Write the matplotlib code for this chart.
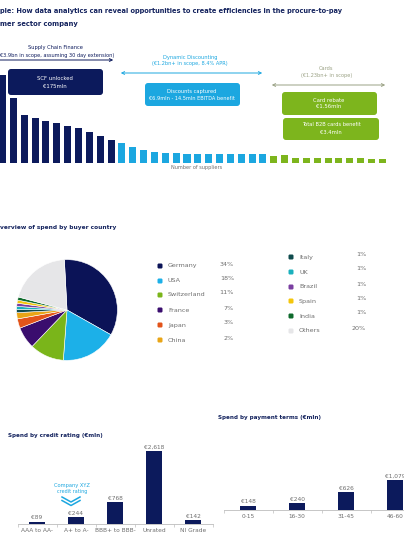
import matplotlib
matplotlib.use("Agg")
import matplotlib.pyplot as plt
from matplotlib.patches import FancyBboxPatch

W, H = 404, 543
NAVY = "#0c1a5c"
CYAN = "#1ca7e0"
GREEN = "#7db51d"
CARD_GREY = "#9aa184"
GREY_TXT = "#6e6e6e"
TITLE = "#14235e"

# ---------------- data ----------------
supplier_spend = [88, 65, 48, 45, 42, 40, 37, 35, 31, 27, 23,
                  20, 16, 13, 11, 10, 10, 9, 9, 9, 9, 9, 9, 9, 9,
                  7, 8, 5, 5, 5, 5, 5, 5, 5, 4, 4]
supplier_group = ["SCF"] * 11 + ["DD"] * 14 + ["Cards"] * 11
group_colors = {"SCF": NAVY, "DD": CYAN, "Cards": GREEN}

countries = ["Germany", "USA", "Switzerland", "France", "Japan", "China",
             "Italy", "UK", "Brazil", "Spain", "India", "Others"]
country_share = [34, 18, 11, 7, 3, 2, 1, 1, 1, 1, 1, 20]
country_colors = ["#0b1357", "#1cb0e8", "#7ab51a", "#3a0d6e", "#e2541a", "#e9a516",
                  "#0f4b4d", "#1ab0bd", "#7a3ea1", "#f4c60c", "#0e6a2c", "#e6e6e8"]

rating_labels = ["AAA to AA-", "A+ to A-", "BBB+ to BBB-", "Unrated", "NI Grade"]
rating_spend = [89, 244, 768, 2618, 142]
terms_labels = ["0-15", "16-30", "31-45", "46-60"]
terms_spend = [148, 240, 626, 1079]

# ---------------- figure ----------------
fig = plt.figure(figsize=(W / 100, H / 100), dpi=100)
fig.patch.set_facecolor("white")


def px_axes(x0, y0, x1, y1):
    return fig.add_axes([x0 / W, 1 - y1 / H, (x1 - x0) / W, (y1 - y0) / H])


ov = fig.add_axes([0, 0, 1, 1])
ov.set_xlim(0, W)
ov.set_ylim(H, 0)
ov.axis("off")
ov.set_zorder(5)


def rbox(x0, y0, x1, y1, color):
    ov.add_patch(FancyBboxPatch((x0, y0), x1 - x0, y1 - y0,
                                boxstyle="round,pad=0,rounding_size=3",
                                facecolor=color, edgecolor="none"))


# ---------------- titles ----------------
ov.text(0.5, 11, "ple: How data analytics can reveal opportunities to create efficiencies in the procure-to-pay",
        fontsize=4.75, fontweight="bold", color=TITLE, va="center")
ov.text(0.5, 24, "mer sector company", fontsize=4.9, fontweight="bold", color=TITLE, va="center")

# ---------------- top supplier bars ----------------
ax1 = px_axes(-2.9, 68, 395.3, 163)
ax1.bar(range(len(supplier_spend)), supplier_spend, width=0.65,
        color=[group_colors[g] for g in supplier_group])
ax1.set_xlim(-0.5, 36.2)
ax1.set_ylim(0, 95)
ax1.axhline(0, color="#cfcfcf", lw=0.6)
ax1.axis("off")

# SCF annotation
ov.text(55, 47, "Supply Chain Finance", fontsize=3.7, color=NAVY, ha="center", va="center")
ov.text(0.5, 55, "€3.9bn in scope, assuming 30 day extension)", fontsize=3.6, color=NAVY, va="center")
ov.annotate("", xy=(116, 60), xytext=(-8, 60),
            arrowprops=dict(arrowstyle="<->", color=NAVY, lw=0.7, mutation_scale=5))
rbox(8, 69, 103, 95, NAVY)
ov.text(55, 79, "SCF unlocked", fontsize=3.9, color="white", ha="center", va="center")
ov.text(55, 86, "€175mln", fontsize=3.9, color="white", ha="center", va="center")

# Dynamic discounting annotation
ov.text(190, 57, "Dynamic Discounting", fontsize=3.7, color=CYAN, ha="center", va="center")
ov.text(190, 64, "(€1.2bn+ in scope, 8.4% APR)", fontsize=3.6, color=CYAN, ha="center", va="center")
ov.annotate("", xy=(265, 73), xytext=(118, 73),
            arrowprops=dict(arrowstyle="<->", color=CYAN, lw=0.7, mutation_scale=5))
rbox(145, 83, 240, 106, CYAN)
ov.text(192, 91, "Discounts captured", fontsize=3.7, color="white", ha="center", va="center")
ov.text(192, 98, "€6.9mln - 14.5mln EBITDA benefit", fontsize=3.6, color="white", ha="center", va="center")

# Cards annotation
ov.text(326, 69, "Cards", fontsize=3.7, color=CARD_GREY, ha="center", va="center")
ov.text(327, 76, "(€1.23bn+ in scope)", fontsize=3.6, color=CARD_GREY, ha="center", va="center")
ov.annotate("", xy=(388, 85), xytext=(269, 85),
            arrowprops=dict(arrowstyle="<->", color=CARD_GREY, lw=0.7, mutation_scale=5))
rbox(282, 92, 377, 115, GREEN)
ov.text(329, 100, "Card rebate", fontsize=3.8, color="white", ha="center", va="center")
ov.text(329, 107, "€1.56mln", fontsize=3.8, color="white", ha="center", va="center")
rbox(283, 118, 379, 140, GREEN)
ov.text(331, 125, "Total B2B cards benefit", fontsize=3.7, color="white", ha="center", va="center")
ov.text(331, 132, "€3.4mln", fontsize=3.8, color="white", ha="center", va="center")

ov.text(197, 167, "Number of suppliers", fontsize=3.6, color=GREY_TXT, ha="center", va="center")

# ---------------- pie ----------------
ov.text(0.5, 227, "verview of spend by buyer country",
        fontsize=4.2, fontweight="bold", color=TITLE, va="center")
ax2 = px_axes(4, 247, 130, 373)
ax2.pie(country_share, colors=country_colors, startangle=93, counterclock=False,
        wedgeprops=dict(edgecolor="white", linewidth=0.4))
ax2.set_aspect("equal")

leg1_y = [266, 281, 295, 310, 325, 340]
leg2_y = [257, 272, 287, 301, 316, 331]
for i in range(6):
    y = leg1_y[i]
    ov.add_patch(FancyBboxPatch((157.5, y - 2.5), 5, 5, boxstyle="round,pad=0,rounding_size=1.3",
                                facecolor=country_colors[i], edgecolor="none"))
    ov.text(168, y, countries[i], fontsize=4.6, color=GREY_TXT, va="center")
    ov.text(234, y - 2, f"{country_share[i]}%", fontsize=4.6, color=GREY_TXT, va="center", ha="right")
for i in range(6):
    j = i + 6
    y = leg2_y[i]
    ov.add_patch(FancyBboxPatch((288.5, y - 2.5), 5, 5, boxstyle="round,pad=0,rounding_size=1.3",
                                facecolor=country_colors[j], edgecolor="none"))
    ov.text(299, y, countries[j], fontsize=4.6, color=GREY_TXT, va="center")
    ov.text(366, y - 3, f"{country_share[j]}%", fontsize=4.6, color=GREY_TXT, va="center", ha="right")


# ---------------- bottom bar charts ----------------
def small_bar(ax, labels, values, width):
    x = range(len(values))
    ax.bar(x, values, width=width, color=NAVY)
    ax.set_xlim(-0.5, len(values) - 0.5)
    ax.set_ylim(0, 3000)
    for s in ["top", "right", "left"]:
        ax.spines[s].set_visible(False)
    ax.spines["bottom"].set_color("#bdbdbd")
    ax.spines["bottom"].set_linewidth(0.6)
    ax.set_yticks([])
    ax.set_xticks(list(x))
    ax.set_xticklabels(labels, fontsize=4.2, color=GREY_TXT)
    ax.tick_params(axis="x", length=0, pad=3)
    ax.set_xticks([i + 0.5 for i in range(-1, len(values))], minor=True)
    ax.tick_params(axis="x", which="minor", length=2, width=0.5, color="#bdbdbd")
    ax.patch.set_alpha(0)
    for i, v in enumerate(values):
        ax.text(i, v + 50, f"€{v:,}", ha="center", va="bottom", fontsize=4.2, color=GREY_TXT)


ov.text(8, 435, "Spend by credit rating (€mln)", fontsize=4.1, fontweight="bold",
        color=TITLE, va="center")
ax3 = px_axes(17.5, 440, 212.5, 524)
small_bar(ax3, rating_labels, rating_spend, 0.4)
ov.text(72, 486, "Company XYZ", fontsize=3.7, color=CYAN, ha="center", va="center")
ov.text(72, 492, "credit rating", fontsize=3.5, color=CYAN, ha="center", va="center")
ov.plot([62, 71, 80], [497, 502, 497], color=CYAN, lw=1.1)
ov.plot([62, 71, 80], [500.5, 505.5, 500.5], color=CYAN, lw=1.1)

ov.text(218, 417, "Spend by payment terms (€mln)", fontsize=4.1, fontweight="bold",
        color=TITLE, va="center")
ax4 = px_axes(223.5, 426, 404, 510)
small_bar(ax4, terms_labels, terms_spend, 0.34)
ax4.set_xlim(-0.5, 3.5 - (419.5 - 404) / 49.0)

fig.savefig("out.png", dpi=100, facecolor="white")
